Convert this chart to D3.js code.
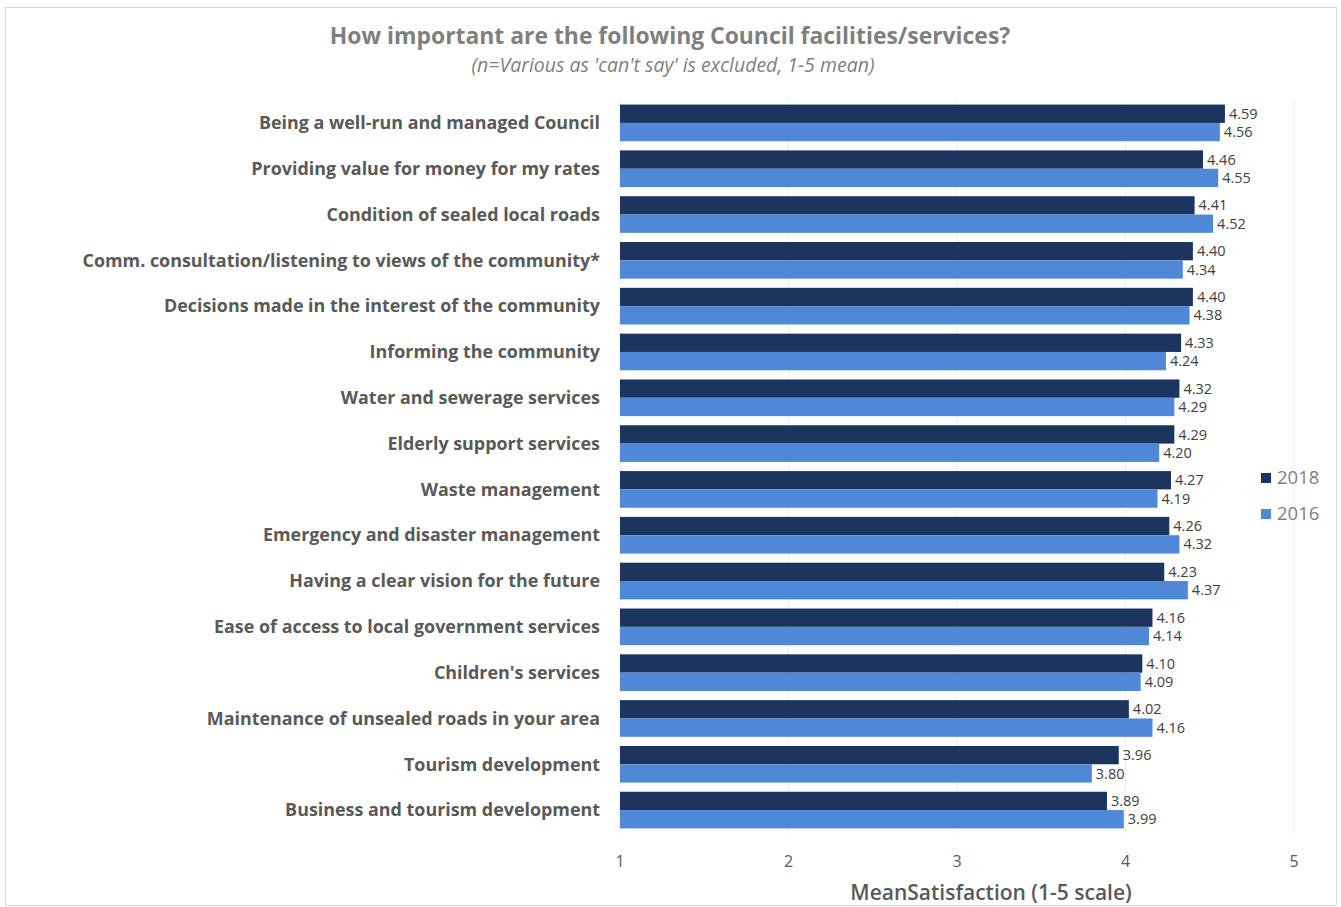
<!DOCTYPE html>
<html><head><meta charset="utf-8">
<script src="https://cdn.jsdelivr.net/npm/d3@7"></script>
<style>body{margin:0;background:#fff;}svg{display:block;font-family:"Open Sans",sans-serif;}</style>
</head><body><svg id="c" width="1341" height="907"></svg>
<script>
const categories = ["Being a well-run and managed Council","Providing value for money for my rates","Condition of sealed local roads","Comm. consultation/listening to views of the community*","Decisions made in the interest of the community","Informing the community","Water and sewerage services","Elderly support services","Waste management","Emergency and disaster management","Having a clear vision for the future","Ease of access to local government services","Children's services","Maintenance of unsealed roads in your area","Tourism development","Business and tourism development"];
const values2018 = [4.59,4.46,4.41,4.40,4.40,4.33,4.32,4.29,4.27,4.26,4.23,4.16,4.10,4.02,3.96,3.89];
const values2016 = [4.56,4.55,4.52,4.34,4.38,4.24,4.29,4.20,4.19,4.32,4.37,4.14,4.09,4.16,3.80,3.99];
const seriesNames = ["2018","2016"];
const xTicks = [1,2,3,4,5];
const title = "How important are the following Council facilities/services?";
const subtitle = "(n=Various as 'can't say' is excluded, 1-5 mean)";
const xTitle = "MeanSatisfaction (1-5 scale)";

const colors = {"2018":"#1c355e","2016":"#4f88d6"};
const svg = d3.select("#c");
svg.append("rect").attr("x",5.5).attr("y",7.5).attr("width",1331).attr("height",898).attr("fill","#fff").attr("stroke","#d9d9d9");

const x = d3.scaleLinear().domain([1,5]).range([620,1294]);
const y = d3.scaleBand().domain(categories).range([100,833]).paddingInner(0.2).paddingOuter(0.1);
const y1 = d3.scaleBand().domain(seriesNames).range([0,y.bandwidth()]);

// gridlines
svg.append("g").selectAll("line").data(xTicks).join("line")
  .attr("x1",d=>x(d)).attr("x2",d=>x(d)).attr("y1",100).attr("y2",833)
  .attr("stroke","#eeeeee").attr("stroke-width",1);

const data = categories.map((c,i)=>({c, v:{"2018":values2018[i],"2016":values2016[i]}}));
const g = svg.append("g").selectAll("g").data(data).join("g").attr("transform",d=>`translate(0,${y(d.c)})`);
g.selectAll("rect").data(d=>seriesNames.map(s=>({s,v:d.v[s]}))).join("rect")
  .attr("x",x(1)).attr("y",d=>y1(d.s)).attr("width",d=>x(d.v)-x(1)).attr("height",y1.bandwidth())
  .attr("fill",d=>colors[d.s]);
g.selectAll("text.v").data(d=>seriesNames.map(s=>({s,v:d.v[s]}))).join("text").attr("class","v")
  .attr("x",d=>x(d.v)+4).attr("y",d=>y1(d.s)+y1.bandwidth()/2).attr("dy","0.35em")
  .attr("font-size",14.5).attr("fill","#404040").text(d=>d.v.toFixed(2));

// category labels
svg.append("g").selectAll("text").data(categories).join("text")
  .attr("x",600).attr("y",d=>y(d)+y.bandwidth()/2).attr("dy","0.35em").attr("text-anchor","end")
  .attr("font-size",17.9).attr("font-weight",700).attr("fill","#595959").text(d=>d);

// x axis tick labels
svg.append("g").selectAll("text").data(xTicks).join("text")
  .attr("x",d=>x(d)).attr("y",867).attr("text-anchor","middle").attr("font-size",16).attr("fill","#595959").text(d=>d);
svg.append("text").attr("x",991).attr("y",900).attr("text-anchor","middle").attr("font-size",21).attr("font-weight",600).attr("fill","#595959").text(xTitle);

// titles
svg.append("text").attr("x",670).attr("y",44).attr("text-anchor","middle").attr("font-size",22.9).attr("font-weight",700).attr("fill","#7f7f7f").text(title);
svg.append("text").attr("x",673).attr("y",72).attr("text-anchor","middle").attr("font-size",19.5).attr("font-style","italic").attr("fill","#7f7f7f").text(subtitle);

// legend
const lg = svg.append("g").selectAll("g").data(seriesNames).join("g").attr("transform",(d,i)=>`translate(1261,${478+i*36})`);
lg.append("rect").attr("x",0).attr("y",-5).attr("width",10).attr("height",10).attr("fill",d=>colors[d]);
lg.append("text").attr("x",16).attr("y",0).attr("dy","0.35em").attr("font-size",18.5).attr("fill","#7f7f7f").text(d=>d);
</script></body></html>
